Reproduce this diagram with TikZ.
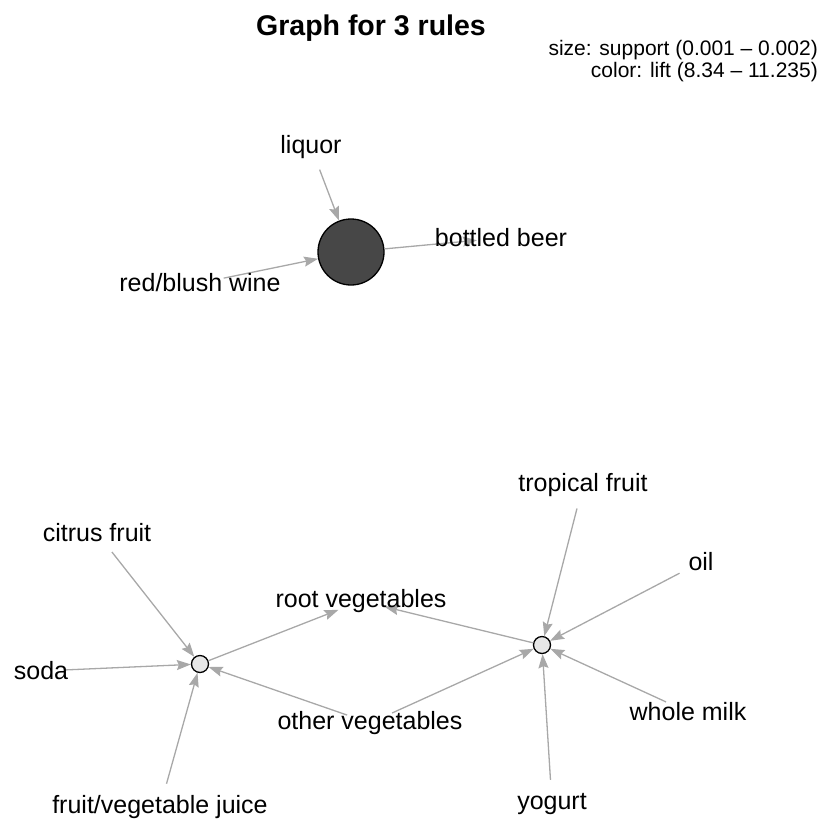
\documentclass[tikz,border=0pt]{standalone}
\usepackage{fontspec}
\setmainfont{Liberation Sans}
\usetikzlibrary{arrows.meta}
\definecolor{edgegray}{RGB}{168,168,168}
\definecolor{ruledark}{RGB}{71,71,71}
\definecolor{rulelight}{RGB}{230,230,230}

\begin{document}
\begin{tikzpicture}[x=1pt,y=-1pt,
  item/.style={circle,minimum size=48pt,inner sep=0pt},
  itemlab/.style={font=\fontsize{25}{30}\selectfont,inner sep=0pt},
  rulenode/.style={circle,draw=black,line width=1.3pt,inner sep=0pt},
  edge/.style={draw=edgegray,line width=1.3pt,-{Stealth[length=14pt,width=10pt,inset=2pt]}}]
  \useasboundingbox (0,0) rectangle (827,823);

  % title and legend
  \node[font=\fontsize{28.5}{34}\selectfont\bfseries,anchor=base] (title) at (371,35) {Graph for 3 rules};
  \node[font=\fontsize{21}{25}\selectfont,anchor=base east,inner sep=0pt] (legsize) at (818,55) {size: support (0.001 – 0.002)};
  \node[font=\fontsize{21}{25}\selectfont,anchor=base east,inner sep=0pt] (legcolor) at (818,77) {color: lift (8.34 – 11.235)};

  % item vertices
  \node[item] (liquor) at (311,147) {};
  \node[item] (redwine) at (200,283) {};
  \node[item] (beer) at (501,238) {};
  \node[item] (citrus) at (97,533) {};
  \node[item] (soda) at (41,671) {};
  \node[item] (juice) at (160,807) {};
  \node[item] (rootveg) at (361,601) {};
  \node[item] (otherveg) at (370,723) {};
  \node[item] (tropical) at (583,485) {};
  \node[item] (oil) at (701,562) {};
  \node[item] (milk) at (688,712) {};
  \node[item] (yogurt) at (552,804) {};

  % rule vertices
  \node[rulenode,fill=ruledark,minimum size=66pt] (rule1) at (351,252) {};
  \node[rulenode,fill=rulelight,minimum size=17pt] (rule2) at (200,664) {};
  \node[rulenode,fill=rulelight,minimum size=17pt] (rule3) at (542,645) {};

  % edges
  \foreach \a/\b in {liquor/rule1,redwine/rule1,rule1/beer,
                     citrus/rule2,soda/rule2,juice/rule2,otherveg/rule2,rule2/rootveg,
                     tropical/rule3,oil/rule3,milk/rule3,yogurt/rule3,otherveg/rule3,rule3/rootveg}
    \draw[edge] (\a) -- (\b);

  % labels
  \node[itemlab] at (liquor) {liquor};
  \node[itemlab] at (redwine) {red/blush wine};
  \node[itemlab] at (beer) {bottled beer};
  \node[itemlab] at (citrus) {citrus fruit};
  \node[itemlab] at (soda) {soda};
  \node[itemlab] at (juice) {fruit/vegetable juice};
  \node[itemlab] at (rootveg) {root vegetables};
  \node[itemlab] at (otherveg) {other vegetables};
  \node[itemlab] at (tropical) {tropical fruit};
  \node[itemlab] at (oil) {oil};
  \node[itemlab] at (milk) {whole milk};
  \node[itemlab] at (yogurt) {yogurt};
\end{tikzpicture}
\end{document}
